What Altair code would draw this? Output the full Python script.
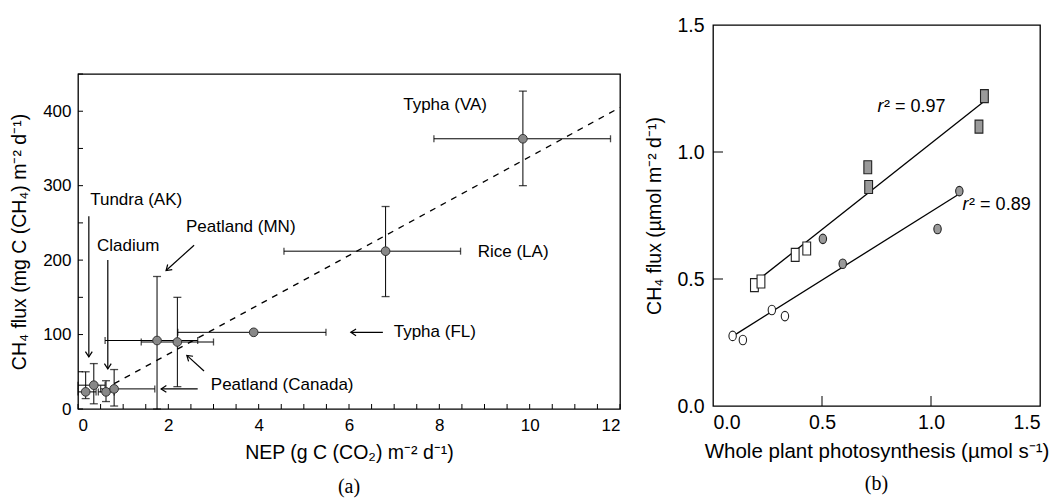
import altair as alt
import pandas as pd

NAN = float("nan")

# ---------------- Panel (a) data ----------------
site_names = ["Typha (VA)", "Rice (LA)", "Typha (FL)", "Peatland (MN)", "Peatland (Canada)",
              "Tundra (AK) 1", "Tundra (AK) 2", "Cladium 1", "Cladium 2"]
nep = [9.85, 6.81, 3.89, 1.75, 2.20, 0.17, 0.35, 0.62, 0.80]
ch4 = [363, 212, 103, 92, 90, 23, 32, 23, 27]
nep_lo = [7.88, 4.56, 2.21, 0.60, 1.40, 0.00, 0.00, 0.45, 0.50]
nep_hi = [11.79, 8.47, 5.49, 2.65, 3.00, 0.40, 0.60, 0.80, 1.70]
ch4_lo = [300, 151, NAN, 0, 30, 14, 7, 10, 4]
ch4_hi = [427, 272, NAN, 178, 150, 50, 61, 38, 53]

fit_nep = [0.8, 12.0]
fit_ch4 = [34, 405]

label_text = ["Typha (VA)", "Rice (LA)", "Typha (FL)", "Peatland (MN)",
              "Peatland (Canada)", "Tundra (AK)", "Cladium"]
label_x = [7.20, 8.85, 6.99, 2.39, 2.94, 0.27, 0.42]
label_y = [408, 211, 103, 245, 32, 281, 219]

arrow_x0 = [0.24, 0.66, 2.57, 2.79, 2.65, 6.75]
arrow_y0 = [259, 200, 220, 51, 27, 103]
arrow_x1 = [0.24, 0.66, 1.95, 2.41, 1.84, 6.04]
arrow_y1 = [70, 54, 186, 72, 27, 103]
arrow_angle = [90, 90, 138, 221, 180, 180]

a_xtick_vals = [0, 0.5, 1, 1.5, 2, 2.5, 3, 3.5, 4, 4.5, 5, 5.5, 6, 6.5, 7, 7.5,
                8, 8.5, 9, 9.5, 10, 10.5, 11, 11.5, 12]
a_ytick_vals = [0, 50, 100, 150, 200, 250, 300, 350, 400, 450]
a_xlabels = [0, 2, 4, 6, 8, 10, 12]
a_ylabels = [0, 100, 200, 300, 400]

# ---------------- Panel (b) data ----------------
osq_x = [0.19, 0.22, 0.377, 0.43]
osq_y = [0.476, 0.49, 0.595, 0.62]
fsq_x = [0.71, 0.714, 1.22, 1.245]
fsq_y = [0.94, 0.862, 1.10, 1.22]
oci_x = [0.09, 0.137, 0.27, 0.33]
oci_y = [0.276, 0.26, 0.378, 0.354]
fci_x = [0.504, 0.595, 1.03, 1.13]
fci_y = [0.658, 0.56, 0.697, 0.846]

upper_fit_x = [0.195, 1.24]
upper_fit_y = [0.488, 1.197]
lower_fit_x = [0.082, 1.12]
lower_fit_y = [0.27, 0.83]

r2_text = ["² = 0.97", "² = 0.89"]
r2_x = [0.755, 1.145]
r2_y = [1.177, 0.79]

b_tick_vals = [0.5, 1.0]
b_labels = [0, 0.5, 1.0, 1.5]

# ---------------- styling ----------------
FONT = "Liberation Sans"
FS = 17
W_A, H_A = 542, 335
W_B, H_B = 327, 381

xa = alt.Scale(domain=[0, 12], nice=False, zero=False)
ya = alt.Scale(domain=[0, 450], nice=False, zero=False)

BASE = dict(ticks=False, tickSize=0, domain=False, grid=False, labelFont=FONT,
            titleFont=FONT, labelColor="black", titleColor="black", titleFontWeight="normal")

axis_ax = alt.Axis(values=a_xlabels, title="NEP (g C (CO₂) m⁻² d⁻¹)", labelFontSize=17,
                   titleFontSize=19.5, labelPadding=8, titlePadding=10, **BASE)
axis_ay = alt.Axis(values=a_ylabels, title="CH₄ flux (mg C (CH₄) m⁻² d⁻¹)", labelFontSize=17,
                   titleFontSize=19.5, labelPadding=7, titlePadding=13.5, **BASE)


def AX(f):
    return alt.X(f, type="quantitative", scale=xa, axis=axis_ax)


def AY(f):
    return alt.Y(f, type="quantitative", scale=ya, axis=axis_ay)


df_a = pd.DataFrame(dict(name=site_names, x=nep, y=ch4, xlo=nep_lo, xhi=nep_hi,
                         ylo=ch4_lo, yhi=ch4_hi))
df_vcaps = pd.DataFrame(dict(x=nep + nep, y=ch4_lo + ch4_hi)).dropna()
df_hcaps = pd.DataFrame(dict(x=nep_lo + nep_hi, y=ch4 + ch4))
df_fit = pd.DataFrame(dict(x=fit_nep, y=fit_ch4))
df_lab = pd.DataFrame(dict(t=label_text, x=label_x, y=label_y))
df_arr = pd.DataFrame(dict(x0=arrow_x0, y0=arrow_y0, x1=arrow_x1, y1=arrow_y1, ang=arrow_angle))
df_xt = pd.DataFrame(dict(v=a_xtick_vals))
df_yt = pd.DataFrame(dict(v=a_ytick_vals))

CHEVRON = "M-1,-0.65L0,0L-1,0.65"

a_xticks = alt.Chart(df_xt).mark_rule(color="black", strokeWidth=1).encode(
    x=AX("v"), y=alt.value(H_A), y2=alt.value(H_A - 5))
a_yticks = alt.Chart(df_yt).mark_rule(color="black", strokeWidth=1).encode(
    y=AY("v"), x=alt.value(0), x2=alt.value(5))
a_fit = alt.Chart(df_fit).mark_line(color="black", strokeDash=[6, 6], strokeWidth=1.3).encode(
    x=AX("x"), y=AY("y"))
a_herr = alt.Chart(df_a).mark_rule(color="black", strokeWidth=1).encode(
    x=AX("xlo"), x2="xhi", y=AY("y"))
a_verr = alt.Chart(df_a).transform_filter("isValid(datum.ylo)").mark_rule(
    color="black", strokeWidth=1).encode(x=AX("x"), y=AY("ylo"), y2="yhi")
a_vcap = alt.Chart(df_vcaps).mark_tick(orient="horizontal", size=8, thickness=1.3,
                                       color="black").encode(x=AX("x"), y=AY("y"))
a_hcap = alt.Chart(df_hcaps).mark_tick(orient="vertical", size=7, thickness=1.3,
                                       color="black").encode(x=AX("x"), y=AY("y"))
a_pts = alt.Chart(df_a).mark_point(filled=True, shape="circle", size=75, fill="#888888",
                                   stroke="#333333", strokeWidth=1, opacity=1).encode(
    x=AX("x"), y=AY("y"))
a_text = alt.Chart(df_lab).mark_text(align="left", baseline="middle", fontSize=FS,
                                     font=FONT, color="black").encode(
    x=AX("x"), y=AY("y"), text="t:N")
a_shaft = alt.Chart(df_arr).mark_rule(color="black", strokeWidth=1.2).encode(
    x=AX("x0"), y=AY("y0"), x2="x1", y2="y1")
a_head = alt.Chart(df_arr).mark_point(shape=CHEVRON, size=110, filled=False, color="black",
                                      strokeWidth=1.2, opacity=1).encode(
    x=AX("x1"), y=AY("y1"), angle=alt.Angle("ang:Q", scale=None))

panel_a = alt.layer(a_xticks, a_yticks, a_fit, a_herr, a_verr, a_vcap, a_hcap, a_pts,
                    a_text, a_shaft, a_head).properties(
    width=W_A, height=H_A,
    title=alt.TitleParams("(a)", orient="bottom", font="Liberation Serif", fontSize=20,
                          fontWeight="normal", frame="group", offset=15, color="black"))

spacer = alt.Chart(pd.DataFrame(dict(t=[""]))).mark_text().encode(text="t:N").properties(
    width=W_A, height=47, view=alt.ViewBackground(strokeOpacity=0))

col_a = alt.vconcat(spacer, panel_a, spacing=0)

# ---------------- Panel (b) ----------------
xb = alt.Scale(domain=[0, 1.5], nice=False, zero=False)
yb = alt.Scale(domain=[0, 1.5], nice=False, zero=False)
axis_bx = alt.Axis(values=b_labels, format=".1f", title="Whole plant photosynthesis (µmol s⁻¹)",
                   labelFontSize=19.5, titleFontSize=20.5, labelPadding=7, titlePadding=10,
                   **BASE)
axis_by = alt.Axis(values=b_labels, format=".1f", title="CH₄ flux (µmol m⁻² d⁻¹)",
                   labelFontSize=19.5, titleFontSize=19.5, labelPadding=9, titlePadding=12,
                   **BASE)


def BX(f):
    return alt.X(f, type="quantitative", scale=xb, axis=axis_bx)


def BY(f):
    return alt.Y(f, type="quantitative", scale=yb, axis=axis_by)


df_bt = pd.DataFrame(dict(v=b_tick_vals))
b_xticks = alt.Chart(df_bt).mark_rule(color="black", strokeWidth=1).encode(
    x=BX("v"), y=alt.value(H_B), y2=alt.value(H_B - 10))
b_yticks = alt.Chart(df_bt).mark_rule(color="black", strokeWidth=1).encode(
    y=BY("v"), x=alt.value(0), x2=alt.value(10))


def fit_layer(xs, ys):
    return alt.Chart(pd.DataFrame(dict(x=xs, y=ys))).mark_line(
        color="black", strokeWidth=1.3).encode(x=BX("x"), y=BY("y"))


RECT = "M-0.6,-1L0.6,-1L0.6,1L-0.6,1Z"
ELL = "M0,-1A0.78,1 0 1,1 0,1A0.78,1 0 1,1 0,-1Z"


def pts_layer(xs, ys, shape, size, fill):
    return alt.Chart(pd.DataFrame(dict(x=xs, y=ys))).mark_point(
        shape=shape, size=size, filled=True, fill=fill, stroke="#222222", strokeWidth=1.1,
        opacity=1).encode(x=BX("x"), y=BY("y"))


df_r2 = pd.DataFrame(dict(t=r2_text, x=r2_x, y=r2_y))
b_r = alt.Chart(df_r2).mark_text(text="r", align="left", baseline="middle", fontSize=18,
                                 font=FONT, fontStyle="italic", color="black").encode(
    x=BX("x"), y=BY("y"))
b_r2 = alt.Chart(df_r2).mark_text(align="left", baseline="middle", fontSize=18, font=FONT,
                                  dx=6.5, color="black").encode(
    x=BX("x"), y=BY("y"), text="t:N")

panel_b = alt.layer(
    b_xticks, b_yticks,
    fit_layer(upper_fit_x, upper_fit_y), fit_layer(lower_fit_x, lower_fit_y),
    pts_layer(osq_x, osq_y, RECT, 169, "white"),
    pts_layer(fsq_x, fsq_y, RECT, 169, "#9a9a9a"),
    pts_layer(oci_x, oci_y, ELL, 90, "white"),
    pts_layer(fci_x, fci_y, ELL, 90, "#9a9a9a"),
    b_r, b_r2,
).properties(
    width=W_B, height=H_B,
    title=alt.TitleParams("(b)", orient="bottom", font="Liberation Serif", fontSize=20,
                          fontWeight="normal", frame="group", offset=12, color="black"))

chart = alt.hconcat(col_a, panel_b, spacing=20).properties(
    padding={"left": 0, "top": 6, "right": 0, "bottom": 0}, background="white"
).configure_view(stroke="black", strokeWidth=1.3)

chart.save("out.html", embed_options={"renderer": "svg", "actions": False})
